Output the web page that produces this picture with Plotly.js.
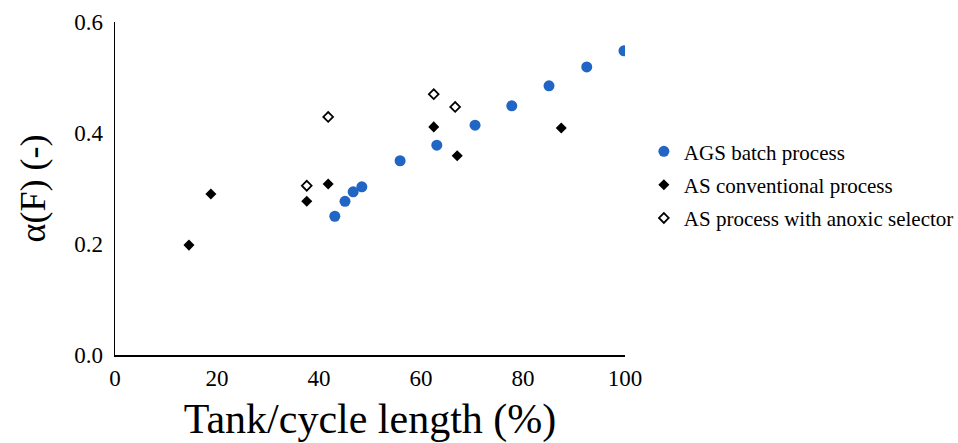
<!DOCTYPE html>
<html>
<head>
<meta charset="utf-8">
<script src="https://cdn.plot.ly/plotly-3.0.1.min.js"></script>
<style>html,body{margin:0;padding:0;background:#fff;}#chart{width:958px;height:443px;}</style>
</head>
<body>
<div id="chart"></div>
<script>
const seriesNames = ["AGS batch process", "AS conventional process", "AS process with anoxic selector"];
const agsX = [43.1, 45.1, 46.7, 48.4, 55.9, 63.1, 70.6, 77.8, 85.1, 92.5, 99.8];
const agsY = [0.250, 0.277, 0.294, 0.303, 0.350, 0.378, 0.414, 0.449, 0.485, 0.519, 0.548];
const convX = [14.5, 18.8, 37.6, 41.8, 62.5, 67.1, 87.5];
const convY = [0.198, 0.290, 0.277, 0.308, 0.411, 0.359, 0.409];
const anoxX = [37.6, 41.8, 62.5, 66.7];
const anoxY = [0.305, 0.429, 0.470, 0.447];
const xTicks = [0, 20, 40, 60, 80, 100];
const yTicks = [0, 0.2, 0.4, 0.6];
const yTickText = ["0.0", "0.2", "0.4", "0.6"];

const font = "'Liberation Serif', 'Times New Roman', serif";
const traces = [
  {x: agsX, y: agsY, name: seriesNames[0], legendgroup: "a", mode: "markers", type: "scatter",
   marker: {symbol: "circle", size: 11, color: "#2166c4"}},
  {x: convX, y: convY, name: seriesNames[1], legendgroup: "b", mode: "markers", type: "scatter",
   marker: {symbol: "diamond", size: 8.5, color: "#000000"}},
  {x: anoxX, y: anoxY, name: seriesNames[2], legendgroup: "c", mode: "markers", type: "scatter",
   marker: {symbol: "diamond-open", size: 7.5, color: "#000000", line: {width: 1.8, color: "#000"}}}
];
const layout = {
  width: 958, height: 443,
  margin: {l: 115, r: 333, t: 22, b: 88, autoexpand: false},
  paper_bgcolor: "#fff", plot_bgcolor: "#fff",
  font: {family: font, color: "#000"},
  showlegend: true,
  legend: {x: 1.037, y: 0.672, xanchor: "left", yanchor: "top", font: {family: font, size: 21, color: "#000"},
           itemwidth: 30, tracegroupgap: 3, bgcolor: "rgba(0,0,0,0)"},
  xaxis: {range: [0, 100], tickvals: xTicks, ticks: "", showgrid: false, zeroline: false, ticklabelstandoff: 2,
          showline: true, linecolor: "#000", linewidth: 1.5, tickfont: {family: font, size: 23, color: "#000"},
          title: {text: "Tank/cycle length (%)", font: {family: font, size: 42, color: "#000"}, standoff: 19}},
  yaxis: {range: [0, 0.6], tickvals: yTicks, ticktext: yTickText, ticks: "", showgrid: false, zeroline: false, ticklabelstandoff: 6,
          showline: true, linecolor: "#000", linewidth: 1.5, tickfont: {family: font, size: 23, color: "#000"},
          title: {text: "α(F) (-)", font: {family: font, size: 36, color: "#000"}, standoff: 17}}
};
Plotly.newPlot("chart", traces, layout, {displayModeBar: false, staticPlot: true});
</script>
</body>
</html>
